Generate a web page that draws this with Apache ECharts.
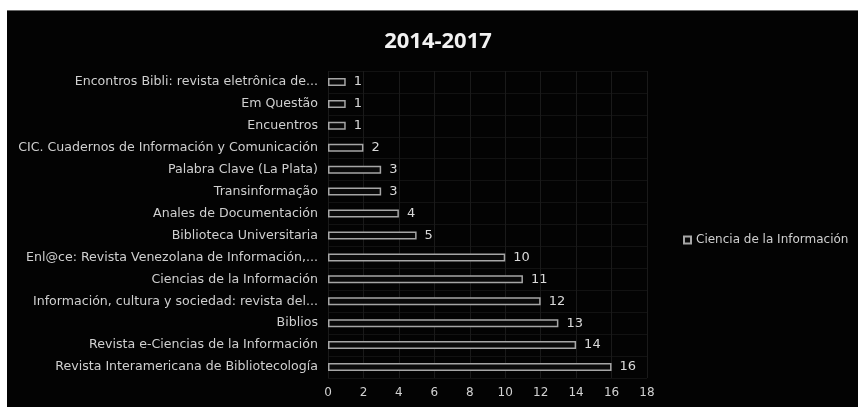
<!DOCTYPE html>
<html>
<head>
<meta charset="utf-8">
<script src="https://cdn.jsdelivr.net/npm/echarts@6/dist/echarts.min.js"></script>
<style>
    html, body { margin: 0; padding: 0; background: #ffffff; }
    #topLine { position: absolute; left: 7px; top: 10px; width: 851px; height: 1px; background: #6a6a6a; }
    #chart2014 { position: absolute; left: 7px; top: 11px; width: 851px; height: 396px; background: #030303; }
</style>
</head>
<body>
<div id="topLine"></div>
<div id="chart2014"></div>
<script>
var journals = [
    'Encontros Bibli: revista eletrônica de...',
    'Em Questão',
    'Encuentros',
    'CIC. Cuadernos de Información y Comunicación',
    'Palabra Clave (La Plata)',
    'Transinformação',
    'Anales de Documentación',
    'Biblioteca Universitaria',
    'Enl@ce: Revista Venezolana de Información,...',
    'Ciencias de la Información',
    'Información, cultura y sociedad: revista del...',
    'Biblios',
    'Revista e-Ciencias de la Información',
    'Revista Interamericana de Bibliotecología'
];
var articles = [1, 1, 1, 2, 3, 3, 4, 5, 10, 11, 12, 13, 14, 16];
var seriesName = 'Ciencia de la Información';

var labelFont = 'DejaVu Sans';

var chart = echarts.init(document.getElementById('chart2014'));
chart.setOption({
    backgroundColor: '#030303',
    animation: false,
    title: {
        text: '2014-2017',
        left: 426,
        top: 15,
        textAlign: 'center',
        textStyle: { color: '#f2f2f2', fontSize: 22, fontWeight: 'bold', fontFamily: 'Open Sans' }
    },
    legend: {
        left: 671,
        top: 218,
        itemWidth: 7,
        itemHeight: 7,
        itemGap: 4,
        icon: 'rect',
        data: [seriesName],
        textStyle: { color: '#cfcfcf', fontSize: 12, fontFamily: labelFont }
    },
    grid: { left: 321, top: 60, width: 319, height: 307, containLabel: false },
    xAxis: {
        type: 'value',
        min: 0,
        max: 18,
        interval: 2,
        axisLine: { show: false },
        axisTick: { show: false },
        axisLabel: { color: '#d2d2d2', fontSize: 12, fontFamily: labelFont, margin: 9 },
        splitLine: { show: true, lineStyle: { color: '#1a1a1a', width: 1 } }
    },
    yAxis: {
        type: 'category',
        inverse: true,
        data: journals,
        axisLine: { show: false },
        axisTick: { show: false },
        axisLabel: { color: '#cfcfcf', fontSize: 12.6, fontFamily: labelFont, margin: 10 },
        splitLine: { show: true, lineStyle: { color: '#121212', width: 1 } }
    },
    series: [{
        name: seriesName,
        type: 'bar',
        data: articles,
        barWidth: 8,
        itemStyle: { color: '#0a0a0a', borderColor: '#a6a6a6', borderWidth: 1.5 },
        label: {
            show: true,
            position: 'right',
            distance: 8,
            color: '#d9d9d9',
            fontSize: 13,
            fontFamily: labelFont
        }
    }]
});
</script>
</body>
</html>
